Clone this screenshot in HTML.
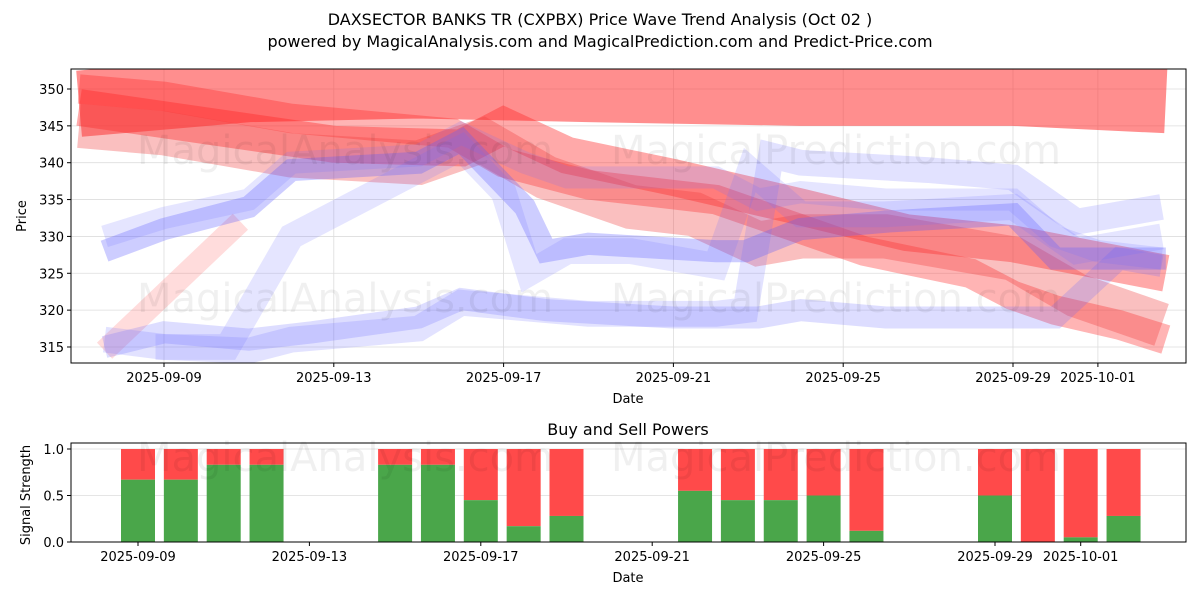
<!DOCTYPE html>
<html><head><meta charset="utf-8"><style>
body{margin:0;background:#fff;font-family:"Liberation Sans","DejaVu Sans",sans-serif}
</style></head><body>
<svg id="c" width="1200" height="600" xmlns="http://www.w3.org/2000/svg" font-family="DejaVu Sans, Liberation Sans, sans-serif">
<text x="600" y="25" text-anchor="middle" font-size="16">DAXSECTOR BANKS TR (CXPBX) Price Wave Trend Analysis (Oct 02 )</text>
<text x="600" y="47" text-anchor="middle" font-size="16">powered by MagicalAnalysis.com and MagicalPrediction.com and Predict-Price.com</text>
<g id="topg"></g><g id="botg"></g>
</svg>
<script>
const NS="http://www.w3.org/2000/svg";
const dateLabels=["2025-09-09","2025-09-13","2025-09-17","2025-09-21","2025-09-25","2025-09-29","2025-10-01"];
const dateDays=[0,4,8,12,16,20,22];
const priceTicks=[315,320,325,330,335,340,345,350];
const powerTicks=[0.0,0.5,1.0];
const barDays=[0,1,2,3,6,7,8,9,10,13,14,15,16,17,20,21,22,23];
const buyPower=[0.67,0.67,0.83,0.83,0.83,0.83,0.45,0.17,0.28,0.55,0.45,0.45,0.5,0.12,0.5,0,0.05,0.28];
const redADays=[-2,2,6,10,15,20,23.6];
const redAVals=[348,350,350.5,350,349.5,349.5,348.5];
const redBDays=[-2,1,4,7,8,9.5,12,15,17.5,20,23.6];
const redBVals=[347.5,345,342.5,342,345,341,338,334,330.5,329,325];
const redCDays=[-2,0,3,6,7.5,9,11,12.5,14,15,17,19,20,21.5,23.5];
const redCVals=[345,344,341,340,343,338,334,333,329,330,330,328,327,322,318];
const redDDays=[-1.4,1.8];
const redDVals=[314.5,332];
const redEDays=[-2,0,3,6.8,8,10,13,15,16.5,19,20,21,22.5,23.6];
const redEVals=[350,349,346,344,340,337,335,331,328,325,322,320,318,316];
const blue1Days=[-1.4,0,2,3,6,7,8.5,9,10,13,13.7,15,17,20,21,23.6];
const blue1Vals=[328,331,334,339,340,343,334,328,329,328,328,331,332,333,327,327];
const blue2Days=[-1.4,0,2,3,6,7,8,10,13,13.7,14.3,15,18,20,21.5,23.5];
const blue2Vals=[316,315,314.5,316,317.5,321,320.5,319.5,319.5,320,341,340,339,338,332,334];
const blue3Days=[-0.2,1.5,3,6,7,8,8.6,9.5,11,13,13.8,15,17,20,21.5,23.5];
const blue3Vals=[315,315,330,339,342,336,325,328,328,326,339,333,333,334,328,330];
const blue4Days=[-1.4,0,2,3,6,7,8.5,9.5,13,14,15,17,20,21,22,23.5];
const blue4Vals=[330,332.5,335,340,341,344,340,338,338,335,336,335,335,330,328,327];
const blue5Days=[-1.4,0,2,3.5,6,7,9,12,14,15,17,20,21,22.5,23.5];
const blue5Vals=[315,317,316,317,319,321.5,320,319,319,320,319,319,319,327,326];

const T={l:71,r:1186,t:69,b:363}, B={l:71,r:1186,t:443,b:542};
const xT=d=>164+42.45*d, yT=v=>89+(350-v)*7.371;
const xB=d=>138+42.85*d, yB=v=>542-v*93;
function el(tag,attrs,parent,txt){const e=document.createElementNS(NS,tag);for(const k in attrs)e.setAttribute(k,attrs[k]);if(txt!==undefined)e.textContent=txt;parent.appendChild(e);return e;}
const topG=document.getElementById('topg'), botG=document.getElementById('botg');
const cp=el('clipPath',{id:'ct'},topG);el('rect',{x:T.l,y:T.t,width:T.r-T.l,height:T.b-T.t},cp);
dateDays.forEach(d=>{const g=el('line',{x1:xT(d),x2:xT(d),y1:T.t,y2:T.b,stroke:'#ddd','stroke-width':0.8},topG);

});
priceTicks.forEach(v=>{const g=el('line',{x1:T.l,x2:T.r,y1:yT(v),y2:yT(v),stroke:'#ddd','stroke-width':0.8},topG);

});
const bands=[
[redADays,redAVals,9,'rgb(255,50,50)',0.55,'red-band-a'],
[redEDays,redEVals,4,'rgb(255,40,40)',0.35,'red-band-e'],
[redBDays,redBVals,5,'rgb(255,40,40)',0.4,'red-band-b'],
[redCDays,redCVals,6,'rgb(240,60,60)',0.33,'red-band-c'],
[redDDays,redDVals,3,'rgb(255,80,80)',0.2,'red-band-d'],
[blue1Days,blue1Vals,3,'rgb(90,90,255)',0.3,'blue-band-1'],
[blue2Days,blue2Vals,3.5,'rgb(110,110,255)',0.2,'blue-band-2'],
[blue3Days,blue3Vals,3.5,'rgb(110,110,255)',0.18,'blue-band-3'],
[blue4Days,blue4Vals,3,'rgb(110,110,255)',0.18,'blue-band-4'],
[blue5Days,blue5Vals,3,'rgb(100,100,255)',0.22,'blue-band-5']];
const bg=el('g',{'clip-path':'url(#ct)'},topG);
bands.forEach(b=>{const pts=b[0].map((d,i)=>xT(d)+','+yT(b[1][i])).join(' ');
const p=el('polyline',{points:pts,fill:'none',stroke:b[3],'stroke-opacity':b[4],'stroke-width':b[2]*7.371,'stroke-linejoin':'miter','stroke-linecap':'butt'},bg);

});
const fr=el('rect',{x:T.l,y:T.t,width:T.r-T.l,height:T.b-T.t,fill:'none',stroke:'#000','stroke-width':1},topG);


dateDays.forEach((d,i)=>{el('line',{x1:xT(d),x2:xT(d),y1:T.b,y2:T.b+4,stroke:'#000'},topG);
const t=el('text',{x:xT(d),y:T.b+19,'text-anchor':'middle','font-size':13},topG,dateLabels[i]);

});
priceTicks.forEach(v=>{el('line',{x1:T.l-4,x2:T.l,y1:yT(v),y2:yT(v),stroke:'#000'},topG);
const t=el('text',{x:T.l-7,y:yT(v)+5,'text-anchor':'end','font-size':13},topG,v);

});
let t=el('text',{x:628,y:403,'text-anchor':'middle','font-size':13},topG,'Date');


t=el('text',{x:26,y:216,'text-anchor':'middle','font-size':13,transform:'rotate(-90 26 216)'},topG,'Price');


t=el('text',{x:628,y:435,'text-anchor':'middle','font-size':16},botG,'Buy and Sell Powers');


powerTicks.forEach(v=>{el('line',{x1:B.l,x2:B.r,y1:yB(v),y2:yB(v),stroke:'#ddd','stroke-width':0.8},botG);el('line',{x1:B.l-4,x2:B.l,y1:yB(v),y2:yB(v),stroke:'#000'},botG);
const tt=el('text',{x:B.l-7,y:yB(v)+5,'text-anchor':'end','font-size':13},botG,v.toFixed(1));

});
barDays.forEach((d,i)=>{const x=xB(d)-17,g=buyPower[i];
const r=el('rect',{x:x,y:yB(1),width:34,height:yB(g)-yB(1),fill:'#ff4a4a'},botG);


const gr=el('rect',{x:x,y:yB(g),width:34,height:yB(0)-yB(g),fill:'#4aa64a'},botG);

});
const fb=el('rect',{x:B.l,y:B.t,width:B.r-B.l,height:B.b-B.t,fill:'none',stroke:'#000','stroke-width':1},botG);


dateDays.forEach((d,i)=>{el('line',{x1:xB(d),x2:xB(d),y1:B.b,y2:B.b+4,stroke:'#000'},botG);
const tt=el('text',{x:xB(d),y:B.b+19,'text-anchor':'middle','font-size':13},botG,dateLabels[i]);

});
t=el('text',{x:628,y:582,'text-anchor':'middle','font-size':13},botG,'Date');


t=el('text',{x:30,y:495,'text-anchor':'middle','font-size':13,transform:'rotate(-90 30 495)'},botG,'Signal Strength');


const svgRoot=document.getElementById('c');
[[345,150,'MagicalAnalysis.com'],[836,150,'MagicalPrediction.com'],[345,298,'MagicalAnalysis.com'],[836,298,'MagicalPrediction.com'],[345,457,'MagicalAnalysis.com'],[836,457,'MagicalPrediction.com']].forEach(w=>{const wt=el('text',{x:w[0],y:w[1]+14,'text-anchor':'middle','font-size':40,fill:'#000','fill-opacity':0.06},svgRoot,w[2]);

});
</script>
</body></html>
